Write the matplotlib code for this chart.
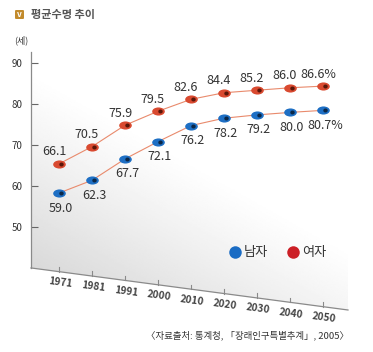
import numpy as np
import matplotlib
matplotlib.use("Agg")
import matplotlib.pyplot as plt
from matplotlib.markers import MarkerStyle
from matplotlib.patches import Polygon, FancyBboxPatch
from matplotlib.lines import Line2D
import matplotlib.transforms as mtransforms

plt.rcParams['font.family'] = ['Noto Sans CJK KR', 'DejaVu Sans']

# data
years = ["1971", "1981", "1991", "2000", "2010", "2020", "2030", "2040", "2050"]
female = [66.1, 70.5, 75.9, 79.5, 82.6, 84.4, 85.2, 86.0, 86.6]
male = [59.0, 62.3, 67.7, 72.1, 76.2, 78.2, 79.2, 80.0, 80.7]
female_labels = ["66.1", "70.5", "75.9", "79.5", "82.6", "84.4", "85.2", "86.0", "86.6%"]
male_labels = ["59.0", "62.3", "67.7", "72.1", "76.2", "78.2", "79.2", "80.0", "80.7%"]
yticks = [50, 60, 70, 80, 90]

W, H = 373, 352
fig = plt.figure(figsize=(W / 100, H / 100), dpi=100)
fig.patch.set_facecolor("white")
ax = fig.add_axes([31 / W, 1 - 310 / H, 317 / W, 258 / H])
xmin, xmax = -0.85, 8.76
ax.set_xlim(xmin, xmax)
ax.set_ylim(29.85, 92.67)
ax.set_facecolor("none")
for s in ax.spines.values():
    s.set_visible(False)

base = 0.163  # slanted floor height at left, axes fraction

# gradient backdrop, clipped to the floor polygon
gx, gy = np.meshgrid(np.linspace(0, 1, 200), np.linspace(0, 1, 200))
g = np.clip(1 - (gx * 0.9 + (gy - base) * 1.3), 0, 1) ** 1.1
img = 1 - 0.15 * g
im = ax.imshow(img, cmap="gray", vmin=0, vmax=1, origin="lower",
               extent=(0, 1, 0, 1), transform=ax.transAxes, aspect="auto", zorder=0)
clip = Polygon([(0, 1), (0, base), (1, 0), (1, 1)], closed=True,
               transform=ax.transAxes, facecolor="none", edgecolor="none")
ax.add_patch(clip)
im.set_clip_path(clip)

# axis lines
ax.plot([0, 0], [base, 1], color="#8a8a8a", lw=0.9, transform=ax.transAxes, clip_on=False)
ax.plot([0, 1], [base, 0], color="#8a8a8a", lw=0.9, transform=ax.transAxes, clip_on=False)

ax.set_xticks([])
ax.set_yticks(yticks)
ax.tick_params(axis="y", direction="in", length=5, width=0.8, color="#666666",
               labelsize=7, labelcolor="#333333", pad=6)

# slight perspective shear for the data
shear = mtransforms.Affine2D().skew(0, np.arctan(-0.030)).translate(0, -0.008)
skewed = ax.transScale + ax.transLimits + shear + ax.transAxes
nudge = mtransforms.ScaledTranslation(1.8 / 100, 0, fig.dpi_scale_trans)

x = np.arange(len(years))
ax.plot(x, female, color="#e98a6c", lw=0.8, transform=skewed, zorder=2)
ax.plot(x, male, color="#e98a6c", lw=0.8, transform=skewed, zorder=2)

pill = MarkerStyle("o", transform=mtransforms.Affine2D().scale(1.4, 0.9))
dot = MarkerStyle("o", transform=mtransforms.Affine2D().scale(1.0, 0.9))
for vals, c, dk in [(female, "#d94a30", "#5a1609"), (male, "#1e6fc4", "#0b2747")]:
    ax.plot(x, vals, ls="", marker=pill, ms=6.5, color=c, mec="none", transform=skewed, zorder=3)
    ax.plot(x, vals, ls="", marker=dot, ms=3.2, color=dk, mec="none",
            transform=skewed + nudge, zorder=4)

for xi, v, t in zip(x, female, female_labels):
    ax.annotate(t, (xi, v), xycoords=skewed, xytext=(-5, 12), textcoords="offset pixels",
                ha="center", va="center", fontsize=9, color="#333333")
for xi, v, t in zip(x, male, male_labels):
    ax.annotate(t, (xi, v), xycoords=skewed, xytext=(2, -15), textcoords="offset pixels",
                ha="center", va="center", fontsize=9, color="#333333")

# ticks and labels along the slanted floor
for xi, t in zip(x, years):
    xa = (xi - xmin) / (xmax - xmin)
    ya = base * (1 - xa)
    ax.plot([xa, xa], [ya, ya + 0.018], color="#8a8a8a", lw=0.8,
            transform=ax.transAxes, clip_on=False)
    ax.annotate(t, (xa, ya), xycoords="axes fraction", xytext=(1, -11),
                textcoords="offset pixels", ha="center", va="center", rotation=-7.5,
                fontsize=7.3, fontweight="bold", color="#444444", annotation_clip=False)

# legend
handles = [Line2D([], [], ls="", marker="o", ms=9, color="#1a6cc4", mec="none"),
           Line2D([], [], ls="", marker="o", ms=9, color="#cc1f26", mec="none")]
ax.legend(handles, ["남자", "여자"], ncol=2, loc="center", bbox_to_anchor=(0.775, 0.221),
          frameon=False, fontsize=9.5, handletextpad=0.1, columnspacing=1.3,
          handlelength=1.2, labelcolor="#333333")

# header and notes
icon = FancyBboxPatch((15 / W, 1 - 19 / H), 9 / W, 9 / H, boxstyle="round,pad=0,rounding_size=0.003",
                      transform=fig.transFigure, facecolor="#c28b2c", edgecolor="none")
fig.patches.append(icon)
fig.text(19.5 / W, 1 - 14.5 / H, "v", ha="center", va="center", fontsize=6,
         fontweight="bold", color="white")
fig.text(31 / W, 1 - 14.5 / H, "평균수명 추이", ha="left", va="center", fontsize=8,
         fontweight="bold", color="#555555")
fig.text(21 / W, 1 - 40 / H, "(세)", ha="center", va="center", fontsize=6.5, color="#333333")
fig.text(349 / W, 1 - 335 / H, "〈자료출처: 통계청, 「장래인구특별추계」, 2005〉", ha="right",
         va="center", fontsize=6.8, color="#333333")

fig.savefig("out.png", dpi=100)
